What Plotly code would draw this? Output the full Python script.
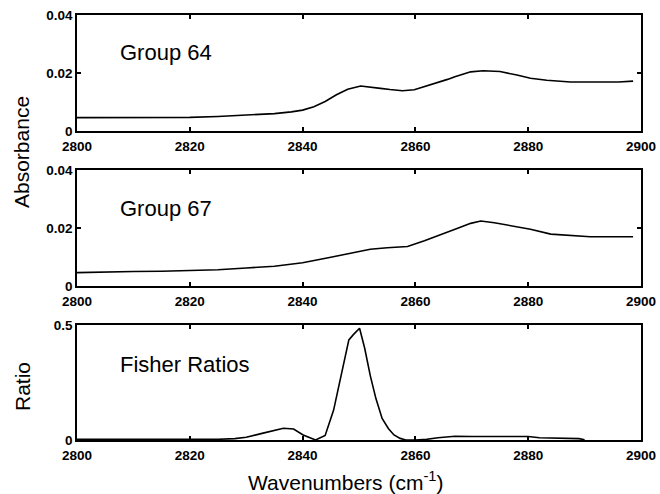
import plotly.graph_objects as go

# ---- data ----
wn64 = [2800, 2810, 2820, 2825, 2830, 2835, 2838, 2840, 2842, 2844, 2846, 2848, 2850.3,
        2852, 2853.8, 2855.5, 2857.7, 2859.8, 2861, 2862.7, 2864, 2865.7, 2867, 2868.6, 2869.8,
        2872, 2875, 2878, 2880.4, 2883.3, 2887.5, 2892, 2896, 2898.6]
abs64 = [0.0046, 0.0046, 0.0047, 0.0050, 0.0055, 0.0060, 0.0066, 0.0072, 0.0084, 0.0102, 0.0125, 0.0144, 0.0155,
         0.0152, 0.0147, 0.0143, 0.0139, 0.0142, 0.0149, 0.0159, 0.0167, 0.0178, 0.0187, 0.0197, 0.0204,
         0.0208, 0.0205, 0.0193, 0.0182, 0.0175, 0.0169, 0.0169, 0.0169, 0.0172]

wn67 = [2800, 2805, 2810, 2815, 2820, 2825, 2830, 2835, 2840, 2843, 2845, 2848.5, 2852, 2855, 2858.6,
        2861.6, 2864.5, 2867.5, 2869.8, 2871.6, 2874, 2876.3, 2880.4, 2884, 2888, 2891, 2895, 2898.6]
abs67 = [0.0046, 0.0049, 0.0050, 0.0051, 0.0053, 0.0056, 0.0062, 0.0068, 0.0080, 0.0090, 0.0099, 0.0113, 0.0127, 0.0132, 0.0136,
         0.0156, 0.0176, 0.0199, 0.0216, 0.0224, 0.0218, 0.0210, 0.0196, 0.0179, 0.0174, 0.0170, 0.0170, 0.0170]

wnF = [2800, 2810, 2815, 2820, 2825, 2828, 2830, 2833, 2835, 2836.6, 2838.4, 2840.1, 2842.3, 2844.0,
       2845.5, 2847.0, 2848.2, 2849.0, 2850.1, 2851.0, 2852.0, 2853.0, 2854.1, 2855.2, 2856.2,
       2857.3, 2858.3, 2860, 2862, 2864, 2867, 2870, 2875, 2880, 2882, 2885, 2889, 2890]
fisher = [0.003, 0.003, 0.002, 0.002, 0.003, 0.006, 0.012, 0.030, 0.043, 0.051, 0.048, 0.022, 0.0, 0.02,
          0.13, 0.30, 0.435, 0.458, 0.486, 0.40, 0.28, 0.18, 0.094, 0.05, 0.022,
          0.007, 0.0, 0.0, 0.003, 0.010, 0.016, 0.015, 0.015, 0.015, 0.010, 0.007, 0.006, 0.001]

xticks = [2800, 2820, 2840, 2860, 2880, 2900]
absticks = [0, 0.02, 0.04]
absticktext = ["0", "0.02", "0.04"]
ratioticks = [0, 0.5]
ratioticktext = ["0", "0.5"]

W, H = 660, 494
def py(pix):
    return 1 - pix / H

xdom = [77 / W, 641 / W]
ydoms = [[py(131), py(15)], [py(286), py(170)], [py(440), py(325)]]

fig = go.Figure()
line = dict(color="black", width=1.6)
fig.add_trace(go.Scatter(x=wn64, y=abs64, mode="lines", line=line, xaxis="x", yaxis="y", showlegend=False))
fig.add_trace(go.Scatter(x=wn67, y=abs67, mode="lines", line=line, xaxis="x2", yaxis="y2", showlegend=False))
fig.add_trace(go.Scatter(x=wnF, y=fisher, mode="lines", line=line, xaxis="x3", yaxis="y3", showlegend=False))

FONT = "Liberation Sans, Arial, sans-serif"
tickfont = dict(family=FONT, size=13.5, color="black", weight="bold")
def xax(anchor):
    return dict(domain=xdom, range=[2800, 2900], tickvals=xticks, ticks="inside", ticklen=4,
                tickcolor="black", tickwidth=1.5, mirror="ticks", showline=True, linecolor="black", linewidth=1.5,
                showgrid=False, zeroline=False, tickfont=tickfont, anchor=anchor, fixedrange=True,
                automargin=False, ticklabelstandoff=2)
def yax(dom, rng, tv, tt, anchor):
    return dict(domain=dom, range=rng, tickvals=tv, ticktext=tt, ticks="inside", ticklen=4,
                tickcolor="black", tickwidth=1.5, mirror="ticks", showline=True, linecolor="black", linewidth=1.5,
                showgrid=False, zeroline=False, tickfont=tickfont, anchor=anchor, fixedrange=True,
                automargin=False)

fig.update_layout(
    width=W, height=H, margin=dict(l=0, r=0, t=0, b=0),
    paper_bgcolor="white", plot_bgcolor="white",
    xaxis=xax("y"), xaxis2=xax("y2"), xaxis3=xax("y3"),
    yaxis=yax(ydoms[0], [0, 0.04], absticks, absticktext, "x"),
    yaxis2=yax(ydoms[1], [0, 0.04], absticks, absticktext, "x2"),
    yaxis3=yax(ydoms[2], [0, 0.5], ratioticks, ratioticktext, "x3"),
    font=dict(family=FONT, color="black"),
)

annfont = dict(family=FONT, size=22, color="black")
labfont = dict(family=FONT, size=21, color="black")
fig.add_annotation(text="Group 64", x=2807.3, y=0.027, xref="x", yref="y", xanchor="left", yanchor="middle",
                   showarrow=False, font=annfont)
fig.add_annotation(text="Group 67", x=2807.3, y=0.0267, xref="x2", yref="y2", xanchor="left", yanchor="middle",
                   showarrow=False, font=annfont)
fig.add_annotation(text="Fisher Ratios", x=2807.3, y=0.33, xref="x3", yref="y3", xanchor="left", yanchor="middle",
                   showarrow=False, font=annfont)
fig.add_annotation(text="Absorbance", x=21 / W, y=py(152), xref="paper", yref="paper", textangle=-90,
                   xanchor="center", yanchor="middle", showarrow=False, font=labfont)
fig.add_annotation(text="Ratio", x=22 / W, y=py(387), xref="paper", yref="paper", textangle=-90,
                   xanchor="center", yanchor="middle", showarrow=False, font=labfont)
fig.add_annotation(text="Wavenumbers (cm<sup>-1</sup>)", x=346 / W, y=py(481), xref="paper", yref="paper",
                   xanchor="center", yanchor="middle", showarrow=False, font=labfont)

fig.write_html("out.html")
